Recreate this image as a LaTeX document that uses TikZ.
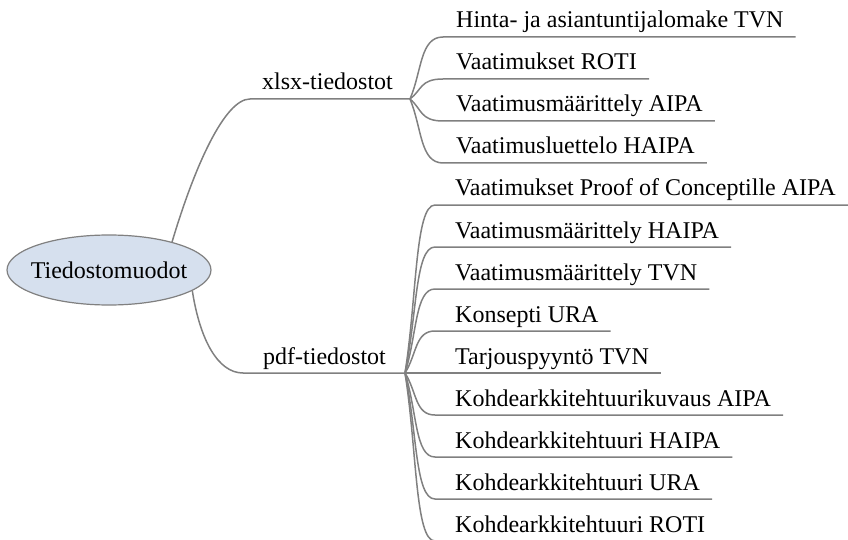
\documentclass[tikz,border=0pt]{standalone}
\usepackage{fontspec}
\setmainfont{Liberation Serif}
\usetikzlibrary{shapes.geometric,calc}
\definecolor{rootfill}{RGB}{214,224,238}
\definecolor{linegrey}{RGB}{128,128,128}
\tikzset{
  rootnode/.style={ellipse, draw=linegrey, line width=1.2pt, fill=rootfill,
    minimum width=204pt, minimum height=70pt, inner sep=0pt,
    font=\fontsize{24}{28}\selectfont},
  label/.style={anchor=base west, inner sep=0pt, font=\fontsize{24}{28}\selectfont},
  link/.style={draw=linegrey, line width=1.5pt}
}
\begin{document}
\begin{tikzpicture}[x=1pt,y=-1pt]
\useasboundingbox (0,0) rectangle (848,540);

% central topic (text boxed at zero width so the ellipse keeps its set size)
\node[rootnode] (root) at (109,270) {\makebox[0pt][c]{Tiedostomuodot}};

% branch labels and their hubs
\node[label] (xlsx) at (262,90) {xlsx-tiedostot};
\node[label] (pdf) at (263,364) {pdf-tiedostot};
\coordinate (xhub) at (410,99);
\coordinate (phub) at (405,373);

\draw[link] (root.24) .. controls (195,165) and (225,99) .. ($(xlsx.base west)+(-12,9)$) -- (xhub);
\draw[link] (root.-14) .. controls (200,340) and (218,373) .. ($(pdf.base west)+(-20,9)$) -- (phub);

% spreadsheet files
\node[label] (x1) at (456,28)  {Hinta- ja asiantuntijalomake TVN};
\node[label] (x2) at (456,70)  {Vaatimukset ROTI};
\node[label] (x3) at (456,112) {Vaatimusmäärittely AIPA};
\node[label] (x4) at (456,154) {Vaatimusluettelo HAIPA};

\draw[link] (xhub) .. controls (422,71)  and (420,37)  .. ($(x1.base west)+(-13,9)$) -- ($(x1.base east)+(12,9)$);
\draw[link] (xhub) .. controls (422,90)  and (420,79)  .. ($(x2.base west)+(-13,9)$) -- ($(x2.base east)+(12,9)$);
\draw[link] (xhub) .. controls (422,109) and (420,121) .. ($(x3.base west)+(-13,9)$) -- ($(x3.base east)+(12,9)$);
\draw[link] (xhub) .. controls (422,128) and (420,163) .. ($(x4.base west)+(-13,9)$) -- ($(x4.base east)+(12,9)$);

% pdf files
\node[label] (p1) at (455,196) {Vaatimukset Proof of Conceptille AIPA};
\node[label] (p2) at (455,238) {Vaatimusmäärittely HAIPA};
\node[label] (p3) at (455,280) {Vaatimusmäärittely TVN};
\node[label] (p4) at (455,322) {Konsepti URA};
\node[label] (p5) at (455,364) {Tarjouspyyntö TVN};
\node[label] (p6) at (455,406) {Kohdearkkitehtuurikuvaus AIPA};
\node[label] (p7) at (455,448) {Kohdearkkitehtuuri HAIPA};
\node[label] (p8) at (455,490) {Kohdearkkitehtuuri URA};
\node[label] (p9) at (455,532) {Kohdearkkitehtuuri ROTI};

\draw[link] (phub) .. controls (417,297) and (415,205) .. ($(p1.base west)+(-20,9)$) -- ($(p1.base east)+(12,9)$);
\draw[link] (phub) .. controls (417,316) and (415,247) .. ($(p2.base west)+(-20,9)$) -- ($(p2.base east)+(12,9)$);
\draw[link] (phub) .. controls (417,335) and (415,289) .. ($(p3.base west)+(-20,9)$) -- ($(p3.base east)+(12,9)$);
\draw[link] (phub) .. controls (417,354) and (415,331) .. ($(p4.base west)+(-20,9)$) -- ($(p4.base east)+(12,9)$);
\draw[link] (phub) -- ($(p5.base east)+(12,9)$);
\draw[link] (phub) .. controls (417,392) and (415,415) .. ($(p6.base west)+(-20,9)$) -- ($(p6.base east)+(12,9)$);
\draw[link] (phub) .. controls (417,411) and (415,457) .. ($(p7.base west)+(-20,9)$) -- ($(p7.base east)+(12,9)$);
\draw[link] (phub) .. controls (417,430) and (415,499) .. ($(p8.base west)+(-20,9)$) -- ($(p8.base east)+(12,9)$);
\draw[link] (phub) .. controls (417,449) and (415,541) .. ($(p9.base west)+(-20,9)$) -- ($(p9.base east)+(12,9)$);
\end{tikzpicture}
\end{document}
